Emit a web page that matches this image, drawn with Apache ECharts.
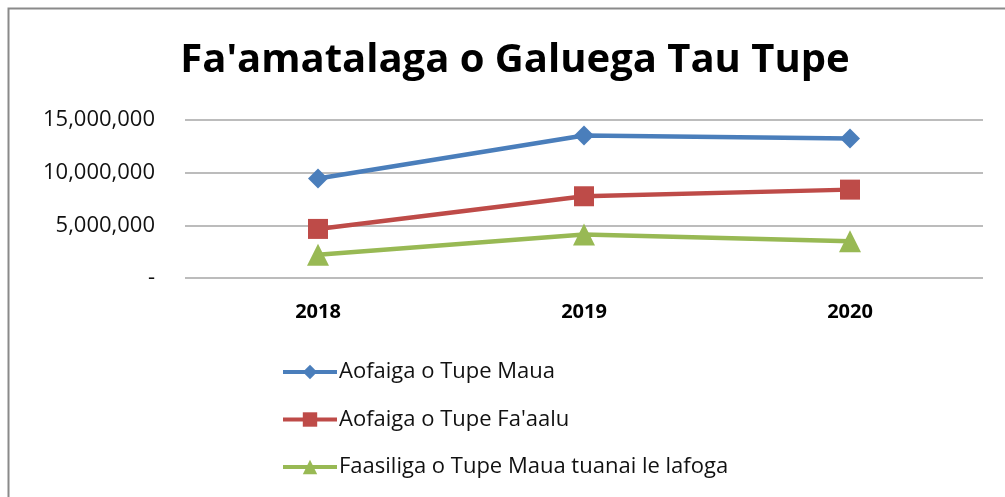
<!DOCTYPE html>
<html>
<head>
<meta charset="utf-8">
<script src="https://cdn.jsdelivr.net/npm/echarts@6/dist/echarts.min.js"></script>
<style>
  html, body { margin: 0; padding: 0; background: #fff; }
  #main { width: 1005px; height: 497px; }
</style>
</head>
<body>
<div id="main"></div>
<script>
var years = ['2018', '2019', '2020']
var seriesNames = ['Aofaiga o Tupe Maua', "Aofaiga o Tupe Fa'aalu", 'Faasiliga o Tupe Maua tuanai le lafoga']
var tupeMaua = [9440000, 13530000, 13240000]
var tupeFaaalu = [4660000, 7760000, 8390000]
var faasiliga = [2210000, 4120000, 3480000]
var yTicks = [0, 5000000, 10000000, 15000000]

var font = '"Open Sans", "Noto Sans", sans-serif'

var myChart = echarts.init(document.getElementById('main'))

var option = {
  animation: false,
  title: {
    text: "Fa'amatalaga o Galuega Tau Tupe",
    left: 510,
    textAlign: 'center',
    top: 36,
    textStyle: { fontFamily: font, fontSize: 40, fontWeight: 'bold', color: '#000' }
  },
  graphic: [{
    type: 'rect',
    shape: { x: 8.5, y: 8.5, width: 1100, height: 600 },
    style: { fill: 'none', stroke: '#8a8a8a', lineWidth: 2 }
  }],
  legend: {
    orient: 'vertical',
    left: 276,
    top: 354,
    itemGap: 21.5,
    itemWidth: 54,
    itemHeight: 18,
    lineStyle: { width: 4 },
    textStyle: { fontFamily: font, fontSize: 22, lineHeight: 26, color: '#111', padding: [0, 0, 0, -3] },
    data: seriesNames
  },
  grid: { left: 185, right: 22, top: 120, bottom: 219 },
  xAxis: {
    type: 'category',
    data: years,
    axisLine: { show: false },
    axisTick: { show: false },
    axisLabel: { fontFamily: font, fontSize: 20, fontWeight: 'bold', color: '#000', margin: 24 }
  },
  yAxis: {
    type: 'value',
    min: yTicks[0],
    max: yTicks[yTicks.length - 1],
    interval: yTicks[1] - yTicks[0],
    axisLine: { show: false },
    axisTick: { show: false },
    splitLine: { lineStyle: { color: '#a6a6a6', width: 1.5 } },
    axisLabel: {
      fontFamily: font, fontSize: 22, color: '#111', margin: 30,
      formatter: function (v) { return v === 0 ? '-' : v.toLocaleString('en-US') }
    }
  },
  series: [
    {
      name: seriesNames[0], type: 'line', data: tupeMaua,
      symbol: 'diamond', symbolSize: 20,
      lineStyle: { width: 4.5, color: '#4a7ebb' },
      itemStyle: { color: '#4a7ebb' }
    },
    {
      name: seriesNames[1], type: 'line', data: tupeFaaalu,
      symbol: 'rect', symbolSize: 20,
      lineStyle: { width: 4.5, color: '#be4b48' },
      itemStyle: { color: '#be4b48' }
    },
    {
      name: seriesNames[2], type: 'line', data: faasiliga,
      symbol: 'triangle', symbolSize: 22,
      lineStyle: { width: 4.5, color: '#98b954' },
      itemStyle: { color: '#98b954' }
    }
  ]
}

myChart.setOption(option)
</script>
</body>
</html>
